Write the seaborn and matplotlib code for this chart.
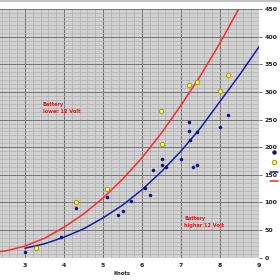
import matplotlib
matplotlib.use("Agg")
import matplotlib.pyplot as plt
from matplotlib.lines import Line2D
from matplotlib.ticker import AutoMinorLocator
import seaborn as sns
import pandas as pd

# Measured points: battery lower 12 Volt (yellow circles)
lower_knots = [3.28, 4.31, 5.09, 6.50, 6.49, 7.21, 7.40, 8.00, 8.20]
lower_power = [17, 101, 125, 205, 266, 313, 319, 302, 331]

# Measured points: battery higher 12 Volt (navy dots)
higher_knots = [3.00, 3.92, 4.31, 5.09, 5.39, 5.50, 5.71, 6.08, 6.21, 6.29, 6.50, 6.50,
                6.62, 7.00, 7.21, 7.21, 7.22, 7.32, 7.42, 7.42, 8.00, 8.21]
higher_power = [10, 37, 89, 110, 78, 84, 102, 126, 113, 159, 179, 168,
                165, 179, 246, 230, 213, 164, 168, 228, 236, 258]

# Trend curves
lower_trend_x = [2.0, 2.5, 3.0, 3.5, 4.0, 4.5, 5.0, 5.5, 6.0, 6.5, 7.0, 7.5, 8.0, 8.5, 8.6]
lower_trend_y = [8, 12, 21, 35, 55, 79, 108, 142, 181, 226, 276, 330, 389, 453, 466]
higher_trend_x = [3.0, 3.5, 4.0, 4.5, 5.0, 5.5, 6.0, 6.5, 7.0, 7.5, 8.0, 8.5, 9.0]
higher_trend_y = [17, 25, 37, 52, 72, 95, 123, 156, 193, 235, 283, 331, 382]

x_ticks = [3, 4, 5, 6, 7, 8, 9]
y_ticks = [0, 50, 100, 150, 200, 250, 300, 350, 400, 450]

sns.set_style("white")
plt.rcParams["font.family"] = ["DejaVu Sans"]

fig = plt.figure(figsize=(2.8, 2.8), dpi=100)
ax = fig.add_axes([-0.05, 0.080, 0.975, 0.8868])
ax.set_facecolor("#d2d2d2")

RED = "#ff2a2a"
BLUE = "#1a1aa8"
NAVY = "#10107a"

df_lt = pd.DataFrame({"x": lower_trend_x, "y": lower_trend_y})
df_ht = pd.DataFrame({"x": higher_trend_x, "y": higher_trend_y})
df_lo = pd.DataFrame({"x": lower_knots, "y": lower_power})
df_hi = pd.DataFrame({"x": higher_knots, "y": higher_power})

sns.lineplot(data=df_lt, x="x", y="y", ax=ax, color=RED, lw=1.1, sort=False, zorder=3)
sns.lineplot(data=df_ht, x="x", y="y", ax=ax, color=BLUE, lw=1.1, sort=False, zorder=3)
sns.scatterplot(data=df_lo, x="x", y="y", ax=ax, color="#ffff55", edgecolor="#9a9a10",
                s=10, linewidth=0.7, zorder=4)
sns.scatterplot(data=df_hi, x="x", y="y", ax=ax, color=NAVY, edgecolor=NAVY,
                s=5, linewidth=0.3, zorder=4)

ax.set_xlim(2, 9)
ax.set_ylim(0, 450)
ax.set_xticks(x_ticks)
ax.set_yticks(y_ticks)
ax.xaxis.set_minor_locator(AutoMinorLocator(5))
ax.yaxis.set_minor_locator(AutoMinorLocator(7))
ax.grid(which="major", color="#747474", lw=0.7, zorder=1)
ax.grid(which="minor", color="#b0b0b0", lw=0.5, zorder=0)
ax.set_axisbelow(True)

ax.yaxis.tick_right()
ax.yaxis.set_label_position("right")
ax.tick_params(axis="y", which="major", direction="out", length=2.5, width=0.6,
               color="#555555", labelsize=4.5, pad=1.5, right=True, left=False)
ax.tick_params(axis="x", which="major", length=0, labelsize=4.5, pad=4)
ax.tick_params(which="minor", length=0)
for lab in ax.get_xticklabels() + ax.get_yticklabels():
    lab.set_fontweight("bold")
    lab.set_color("#222222")

for s in ax.spines.values():
    s.set_visible(False)

ax.set_xlabel("Knots", fontsize=3.8, fontweight="bold", labelpad=2)
ax.set_ylabel("")

ax.text(3.46, 271, "Battery\nlower 12 Volt", color="#e81c1c", fontsize=3.6,
        fontweight="bold", va="center", ha="left", linespacing=1.5, zorder=5)
ax.text(7.08, 64, "Battery\nhigher 12 Volt", color="#e81c1c", fontsize=3.6,
        fontweight="bold", va="center", ha="left", linespacing=1.5, zorder=5)

# top border line of the chart area
fig.add_artist(Line2D([0, 1], [0.997, 0.997], transform=fig.transFigure,
                      color="#c4c4c4", lw=1.5))

# legend: only its symbols fall inside the picture, its labels lie beyond the edge
handles = [
    Line2D([], [], ls="none", marker="o", ms=2.2, color=NAVY),
    Line2D([], [], ls="none", marker="o", ms=3.2, mfc="#ffff55", mec="#9a9a10", mew=0.7),
    Line2D([], [], color=BLUE, lw=1.1),
    Line2D([], [], color=RED, lw=1.1),
]
labels = ["", "", "", ""]
fig.legend(handles, labels, loc="upper left", bbox_to_anchor=(270 / 280, 1 - 150 / 280),
           frameon=False, fontsize=4.5, handlelength=1.3, handletextpad=0.4,
           borderpad=0, borderaxespad=0, labelspacing=0.7)

fig.savefig("out.png", dpi=100)
